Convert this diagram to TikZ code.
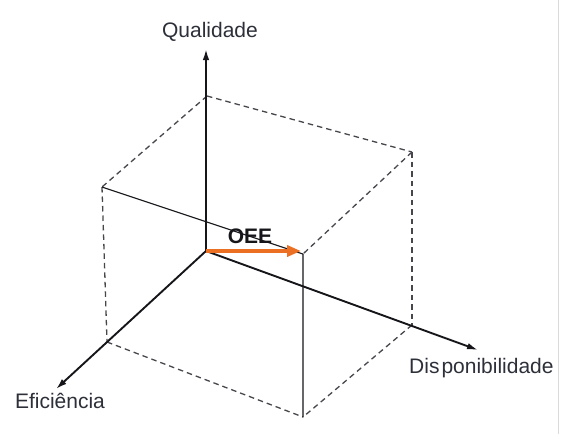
\documentclass[tikz,border=0pt]{standalone}
\usepackage{fontspec}
\setmainfont{Liberation Sans}
\usepackage{tikz}
\usepackage{xcolor}
\usetikzlibrary{arrows.meta,positioning}
\definecolor{oeeOrange}{RGB}{236,112,36}
\definecolor{oeeInk}{RGB}{22,22,26}
\definecolor{oeeDash}{RGB}{70,70,76}
\definecolor{oeeText}{RGB}{45,47,57}
\definecolor{oeeFrame}{RGB}{218,218,218}
\tikzset{
  axisline/.style={draw=oeeInk,line width=1.9pt,-{Latex[length=11pt,width=6.5pt]}},
  edgedash/.style={draw=oeeDash,line width=1.3pt,dash pattern=on 5.5pt off 4pt},
  edgethin/.style={draw=oeeInk,line width=1.1pt},
  axislabel/.style={font=\fontsize{21}{25}\selectfont,text=oeeText,inner sep=0pt}
}

\begin{document}
\begin{tikzpicture}[x=1pt,y=-1pt]
  \useasboundingbox (0,0) rectangle (562,437);
  \draw[oeeFrame,line width=0.8pt] (558,0) -- (558,434);
  % corners of the box
  \coordinate (O)  at (206,251);
  \coordinate (T)  at (207,96);
  \coordinate (TL) at (102,187);
  \coordinate (TR) at (412,152);
  \coordinate (FT) at (303,254);
  \coordinate (EV) at (107,342);
  \coordinate (DV) at (412,325);
  \coordinate (FB) at (303,417);
  % axis ends
  \coordinate (qtip) at (206,49);
  \coordinate (dtip) at (478,350);
  \coordinate (etip) at (56,389);
  \coordinate (oee)  at (301,251);

  \foreach \a/\b in {T/TR,T/TL,TR/FT,TR/DV,TL/EV,EV/FB,DV/FB} {
    \draw[edgedash] (\a) -- (\b);
  }
  \draw[edgethin] (TL) -- (FT) -- (FB);

  \draw[axisline] (O) -- (qtip);
  \draw[axisline] (O) -- (dtip);
  \draw[axisline] (O) -- (etip);
  \draw[draw=oeeOrange,line width=3.6pt,-{Triangle[length=14pt,width=11pt]}] (O) -- (oee);

  \node[axislabel,anchor=base] (qual) at (210,37) {Qualidade};
  \node[axislabel,anchor=base] (efic) at (60,408) {Eficiência};
  \node[axislabel,anchor=base west] (disp) at (409,373) {Dis\kern2pt ponibilidade};
  \node[axislabel,anchor=base,font=\fontsize{21}{25}\selectfont\bfseries,text=oeeInk] (oeelbl) at (250,243) {OEE};
\end{tikzpicture}
\end{document}
